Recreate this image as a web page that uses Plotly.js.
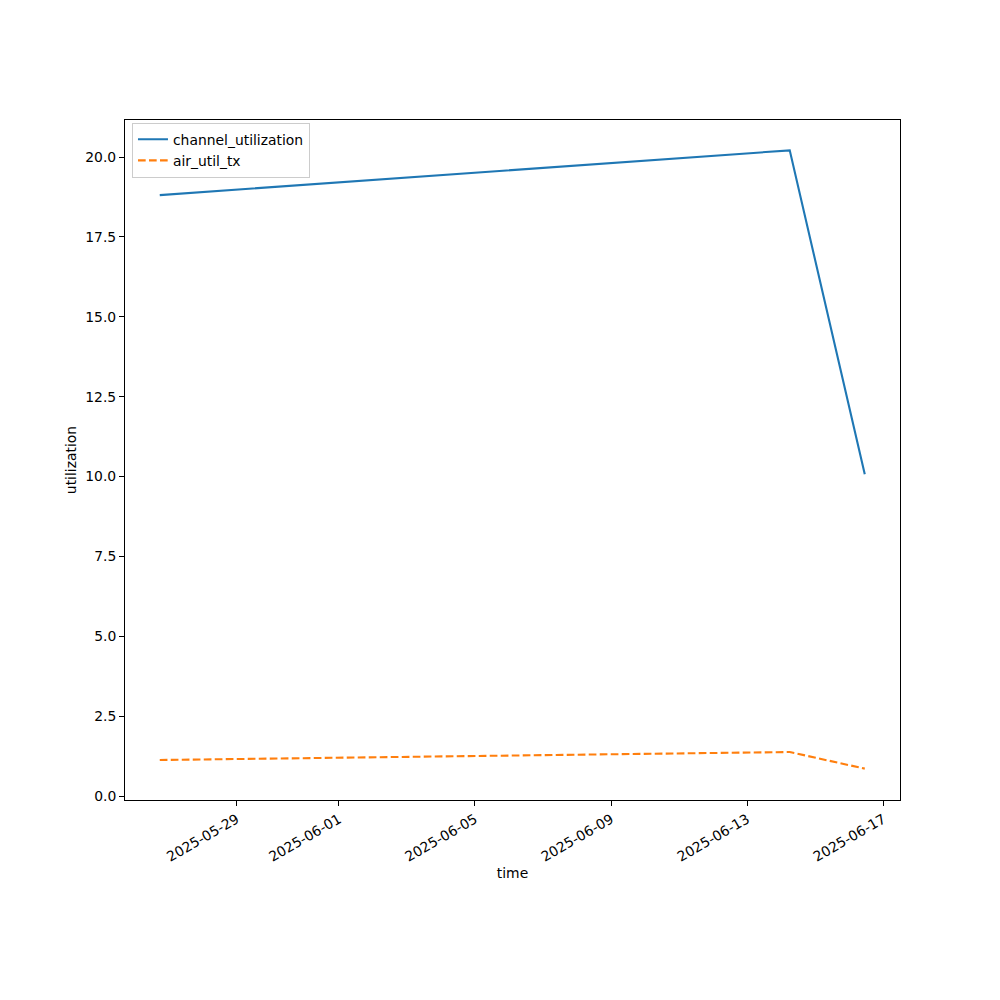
<!DOCTYPE html>
<html>
<head>
<meta charset="utf-8">
<script src="https://cdn.plot.ly/plotly-3.0.1.min.js"></script>
<style>html,body{margin:0;padding:0;background:#fff;}#chart{width:1000px;height:1000px;}</style>
</head>
<body>
<div id="chart"></div>
<script>
const times = ["2025-05-26 17:40", "2025-06-14 06:00", "2025-06-16 10:55"];
const channelUtilization = [18.81, 20.21, 10.07];
const airUtilTx = [1.13, 1.38, 0.86];
const xTickDates = ["2025-05-29", "2025-06-01", "2025-06-05", "2025-06-09", "2025-06-13", "2025-06-17"];
const yTicks = [0, 2.5, 5, 7.5, 10, 12.5, 15, 17.5, 20];

const font = {family: "DejaVu Sans", size: 13.9, color: "#000"};

const traces = [
  {x: times, y: channelUtilization, name: "channel_utilization", mode: "lines",
   line: {color: "#1f77b4", width: 2.1}},
  {x: times, y: airUtilTx, name: "air_util_tx", mode: "lines",
   line: {color: "#ff7f0e", width: 2.1, dash: "7.7px,3.3px"}}
];

const layout = {
  width: 1000, height: 1000,
  margin: {l: 125, r: 100, t: 120, b: 200, pad: 0},
  paper_bgcolor: "#fff", plot_bgcolor: "#fff",
  font: font,
  showlegend: true,
  legend: {x: 0.009, y: 0.996, xanchor: "left", yanchor: "top",
           bgcolor: "rgba(255,255,255,0.8)", bordercolor: "#cccccc", borderwidth: 1,
           font: font, tracegroupgap: 0},
  xaxis: {
    type: "date",
    range: ["2025-05-25 17:09", "2025-06-17 11:46"],
    tickvals: xTickDates, ticktext: xTickDates,
    tickangle: -30,
    ticks: "outside", ticklen: 5, tickwidth: 1, tickcolor: "#000",
    showline: true, linecolor: "#000", linewidth: 1, mirror: true,
    showgrid: false, zeroline: false,
    tickfont: font,
    title: {text: "time", font: font, standoff: 4}
  },
  yaxis: {
    range: [-0.122, 21.16],
    tickvals: yTicks, tickformat: ".1f",
    ticks: "outside", ticklen: 5, tickwidth: 1, tickcolor: "#000",
    showline: true, linecolor: "#000", linewidth: 1, mirror: true,
    showgrid: false, zeroline: false,
    tickfont: font,
    title: {text: "utilization", font: font, standoff: 5}
  }
};

Plotly.newPlot("chart", traces, layout, {displayModeBar: false, staticPlot: true});
</script>
</body>
</html>
